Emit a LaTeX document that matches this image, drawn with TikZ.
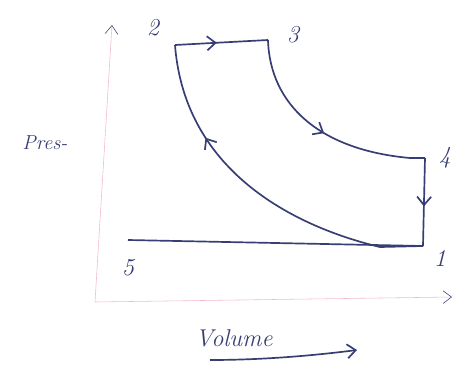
\documentclass[tikz,border=0pt]{standalone}
\usetikzlibrary{arrows.meta,decorations.markings}

\definecolor{ink}{rgb}{0.22,0.24,0.45}
\definecolor{axispink}{rgb}{0.95,0.72,0.78}

\begin{document}
\begin{tikzpicture}[
  x=0.025cm, y=-0.025cm,
  lbl/.style={text=ink, font=\LARGE\itshape},
  axis/.style={draw=axispink, thin, -{Straight Barb[color=ink, length=6pt, width=9pt]}},
  curve/.style={draw=ink, line width=1.2pt},
  midarr/.style={postaction={decorate, decoration={markings,
      mark=at position #1 with {\arrow[ink, line width=1.2pt]{Straight Barb[length=6pt, width=10pt]}}}}}
]
\useasboundingbox (0,0) rectangle (462,383);

% axes
\coordinate (o) at (95,302);
\coordinate (ytip) at (112,25);
\coordinate (xtip) at (452,297);
\draw[axis] (o) -- (ytip);
\draw[axis] (o) -- (xtip);

% cycle points
\coordinate (p1) at (423,246);
\coordinate (p2) at (175,45);
\coordinate (p3) at (268,40);
\coordinate (p4) at (425,158);
\coordinate (p5) at (128,240);

\draw[curve, midarr=0.45] (p2) -- (p3);
\draw[curve, midarr=0.52] (p3) .. controls (270,105) and (320,150) .. (410,158) -- (p4);
\draw[curve, midarr=0.55] (p4) -- (p1);
\draw[curve, midarr=0.72] (p1) -- (380,247) .. controls (300,228) and (185,175) .. (p2);
\draw[curve] (p5) -- (p1);

% labels
\node[lbl] (n1) at (440,258) {1};
\node[lbl] (n2) at (153,28) {2};
\node[lbl] (n3) at (293,35) {3};
\node[lbl] (n4) at (445,158) {4};
\node[lbl] (n5) at (128,268) {5};
\node[lbl, font=\Large\itshape] (pres) at (45,143) {Pres-};
\node[lbl] (vol) at (234,338) {Volume};

\coordinate (va) at (210,360);
\coordinate (vb) at (357,350);
\draw[curve, -{Straight Barb[length=6pt, width=10pt]}] (va) .. controls (260,360) and (310,356) .. (vb);
\end{tikzpicture}
\end{document}
